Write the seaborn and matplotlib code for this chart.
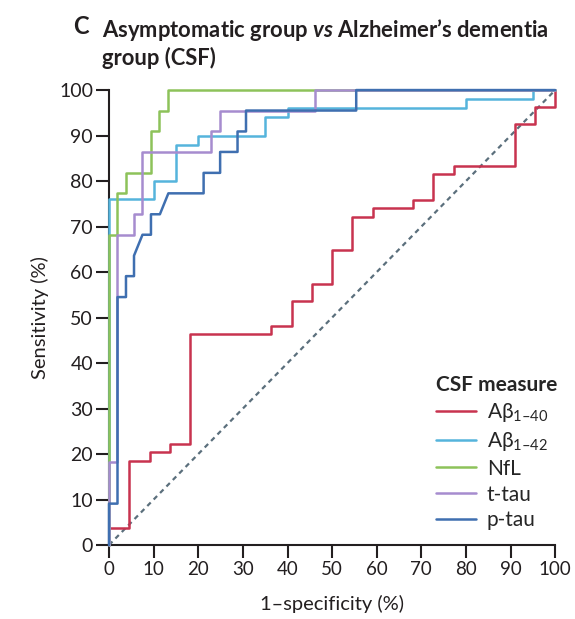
import numpy as np
import pandas as pd
import matplotlib
matplotlib.use("Agg")
import matplotlib.pyplot as plt
import seaborn as sns

# ROC corner points (1-specificity %, sensitivity %)
measures = ["Ab40", "Ab42", "NfL", "t-tau", "p-tau"]
legend_labels = [r"Aβ$_{\mathrm{1–40}}$", r"Aβ$_{\mathrm{1–42}}$", "NfL", "t-tau", "p-tau"]
colors = ["#c8334f", "#55b4dc", "#8dc25a", "#a68ccf", "#3f6fb0"]

ab40_fpr = [0, 0, 4.5, 4.5, 9.1, 9.1, 13.6, 13.6, 18.2, 18.2, 36.4, 36.4, 40.9, 40.9,
            45.5, 45.5, 50.0, 50.0, 54.5, 54.5, 59.1, 59.1, 68.2, 68.2, 72.7, 72.7,
            77.3, 77.3, 90.9, 90.9, 95.5, 95.5, 100, 100]
ab40_tpr = [0, 3.7, 3.7, 18.5, 18.5, 20.4, 20.4, 22.2, 22.2, 46.3, 46.3, 48.1, 48.1, 53.7,
            53.7, 57.4, 57.4, 64.8, 64.8, 72.2, 72.2, 74.1, 74.1, 75.9, 75.9, 81.5,
            81.5, 83.3, 83.3, 92.6, 92.6, 96.3, 96.3, 100]

ab42_fpr = [0, 0, 10, 10, 15, 15, 20, 20, 35, 35, 40, 40, 80, 80, 95, 95, 100]
ab42_tpr = [0, 76, 76, 80, 80, 88, 88, 90, 90, 94, 94, 96, 96, 98, 98, 100, 100]

nfl_fpr = [0, 0, 1.9, 1.9, 3.8, 3.8, 9.4, 9.4, 11.3, 11.3, 13.2, 13.2, 100]
nfl_tpr = [0, 68.2, 68.2, 77.3, 77.3, 81.8, 81.8, 90.9, 90.9, 95.5, 95.5, 100, 100]

ttau_fpr = [0, 0, 1.9, 1.9, 5.6, 5.6, 7.5, 7.5, 22.9, 22.9, 24.9, 24.9, 46.1, 46.1, 100]
ttau_tpr = [0, 18.2, 18.2, 68.2, 68.2, 72.7, 72.7, 86.4, 86.4, 90.9, 90.9, 95.5, 95.5, 100, 100]

ptau_fpr = [0, 0, 1.9, 1.9, 3.8, 3.8, 5.6, 5.6, 7.5, 9.4, 9.4, 11.4, 13.3, 21.2, 21.2,
            24.9, 24.9, 28.8, 28.8, 30.7, 30.7, 55.4, 55.4, 100]
ptau_tpr = [0, 9.1, 9.1, 54.5, 54.5, 59.1, 59.1, 63.6, 68.2, 68.2, 72.7, 72.7, 77.3, 77.3,
            81.8, 81.8, 86.4, 86.4, 90.9, 90.9, 95.5, 95.5, 100, 100]

chance = [0, 100]

all_fpr = [ab40_fpr, ab42_fpr, nfl_fpr, ttau_fpr, ptau_fpr]
all_tpr = [ab40_tpr, ab42_tpr, nfl_tpr, ttau_tpr, ptau_tpr]

df = pd.concat([
    pd.DataFrame({"fpr": f, "tpr": t, "measure": m})
    for m, f, t in zip(measures, all_fpr, all_tpr)
], ignore_index=True)

sns.set_style("ticks")
plt.rcParams["font.family"] = ["Lato", "DejaVu Sans"]
plt.rcParams["mathtext.fontset"] = "custom"
plt.rcParams["mathtext.rm"] = "Lato"
plt.rcParams["mathtext.it"] = "Lato:italic"
plt.rcParams["mathtext.bf"] = "Lato:bold"
plt.rcParams["mathtext.bfit"] = "Lato:italic:bold"
ink = "#231f20"

fig = plt.figure(figsize=(5.75, 6.19), dpi=100)
ax = fig.add_axes([0.1896, 0.1195, 0.776, 0.735])

ax.plot(chance, chance, color="#5b6f7c", lw=1.6, dashes=(2.2, 1.9), zorder=2)

sns.lineplot(data=df, x="fpr", y="tpr", hue="measure", hue_order=measures,
             palette=colors, sort=False, estimator=None, lw=1.8, ax=ax,
             clip_on=False, zorder=4)

ax.set_xlim(0, 100)
ax.set_ylim(0, 100)
ax.set_xticks(range(0, 101, 10))
ax.set_yticks(range(0, 101, 10))
sns.despine(ax=ax)
for s in ["left", "bottom"]:
    ax.spines[s].set_linewidth(1.5)
    ax.spines[s].set_color(ink)
    ax.spines[s].set_zorder(1)
ax.tick_params(direction="out", length=9.5, width=1.5, color=ink,
               labelsize=14, labelcolor=ink, pad=2)
ax.tick_params(axis="x", labelsize=13.5)

ax.set_xlabel("1–specificity (%)", fontsize=14.5, color=ink, labelpad=12)
ax.set_ylabel("Sensitivity (%)", fontsize=14.5, color=ink, labelpad=7)

handles, _ = ax.get_legend_handles_labels()
leg = ax.legend(handles, legend_labels, title="CSF measure", frameon=False,
                loc="lower left", bbox_to_anchor=(0.70, 0.0), fontsize=15,
                title_fontproperties={"weight": "bold", "size": 15},
                handlelength=1.9, handletextpad=0.55, labelspacing=0.28,
                borderpad=0.2, alignment="left")
for line in leg.get_lines():
    line.set_linewidth(1.8)

fig.text(0.128, 0.975, "C", fontsize=17, fontweight="bold", color=ink, va="top")
fig.text(0.178, 0.973, "Asymptomatic group $\\mathbfit{vs}$ Alzheimer’s dementia\ngroup (CSF)",
         fontsize=15.8, fontweight="bold", color=ink, va="top", linespacing=1.25)

fig.savefig("out.png", dpi=100)
